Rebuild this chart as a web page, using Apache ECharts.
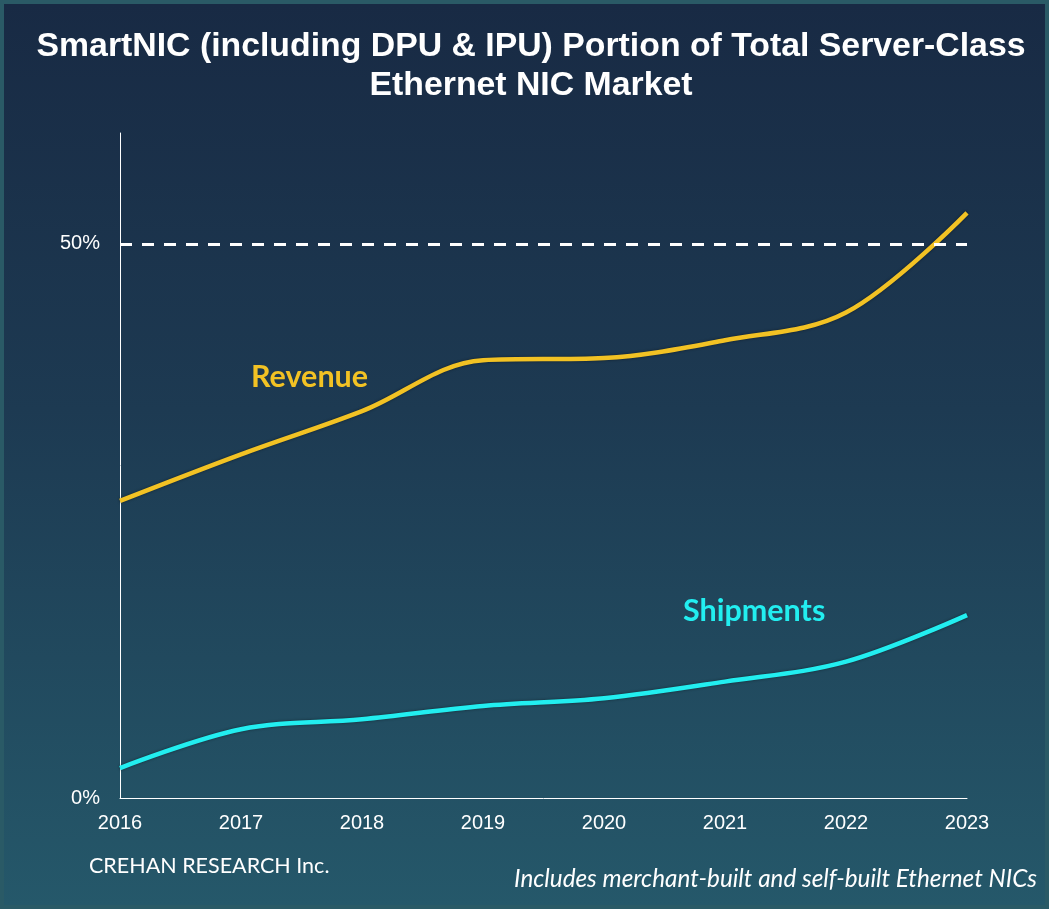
<!DOCTYPE html>
<html>
<head>
<meta charset="utf-8">
<script src="https://cdn.jsdelivr.net/npm/echarts@6/dist/echarts.min.js"></script>
<style>
    html, body { margin: 0; padding: 0; }
    #mychart {
        width: 1049px;
        height: 909px;
        box-sizing: border-box;
        border: 4px solid #2a5a66;
        background: linear-gradient(to bottom, #182a44 0%, #1d3a52 45%, #25586a 100%);
    }
</style>
</head>
<body>
<div id="mychart"></div>
<script>
// values (percent of total)
var years = ['2016', '2017', '2018', '2019', '2020', '2021', '2022', '2023'];
var revenue = [26.8, 31.0, 34.9, 39.5, 39.7, 41.3, 43.8, 52.8];
var shipments = [2.7, 6.2, 7.1, 8.3, 9.0, 10.5, 12.3, 16.5];
var refLine = 50;

var option = {
    textStyle: {fontFamily: 'Liberation Sans, Arial, sans-serif'},
    grid: {
        left: 116,
        right: 78,
        top: 129,
        bottom: 107
    },
    xAxis: [
        {
            type: 'category',
            boundaryGap: false,
            data: years,
            axisLine: {onZero: false, lineStyle: {color: '#ffffff', width: 1}},
            axisTick: {show: false},
            axisLabel: {color: '#ffffff', fontSize: 20, margin: 15}
        }
    ],
    yAxis: [
        {
            type: 'value',
            min: 0,
            max: 60,
            interval: 50,
            axisLine: {show: true, lineStyle: {color: '#ffffff', width: 1}},
            axisTick: {show: false},
            splitLine: {show: false},
            axisLabel: {
                color: '#ffffff',
                fontSize: 20,
                margin: 20,
                showMaxLabel: false,
                formatter: '{value}%'
            }
        }
    ],
    series: [
        {
            name: 'Revenue',
            type: 'line',
            data: revenue,
            smooth: 0.35,
            symbol: 'none',
            lineStyle: {
                color: '#f2c224',
                width: 4.5,
                shadowColor: 'rgba(0,0,0,0.45)',
                shadowBlur: 3
            },
            markLine: {
                silent: true,
                symbol: 'none',
                label: {show: false},
                lineStyle: {color: '#ffffff', type: [12, 10], width: 3},
                data: [{yAxis: refLine}]
            },
            z: 3
        },
        {
            name: 'Shipments',
            type: 'line',
            data: shipments,
            smooth: 0.35,
            symbol: 'none',
            lineStyle: {
                color: '#22eef0',
                width: 4.5,
                shadowColor: 'rgba(0,0,0,0.45)',
                shadowBlur: 3
            },
            z: 3
        }
    ],
    graphic: [
        {
            // chart title, centred a bit right of the page middle like the original
            type: 'text',
            x: 527,
            y: 23,
            style: {
                text: 'SmartNIC (including DPU & IPU) Portion of Total Server-Class\nEthernet NIC Market',
                fill: '#ffffff',
                align: 'center',
                lineHeight: 39,
                font: 'bold 33.8px "Liberation Sans", Arial, sans-serif'
            }
        },
        {
            type: 'text',
            left: 247,
            top: 358,
            style: {
                text: 'Revenue',
                fill: '#f2c224',
                font: 'bold 30.5px Lato, "Open Sans", sans-serif'
            }
        },
        {
            type: 'text',
            left: 679,
            top: 592,
            style: {
                text: 'Shipments',
                fill: '#22eef0',
                font: 'bold 30.5px Lato, "Open Sans", sans-serif'
            }
        },
        {
            type: 'text',
            left: 85,
            top: 851,
            style: {
                text: 'CREHAN RESEARCH Inc.',
                fill: '#ffffff',
                font: '21.5px Lato, "Open Sans", sans-serif'
            }
        },
        {
            type: 'text',
            right: 8,
            top: 863,
            style: {
                text: 'Includes merchant-built and self-built Ethernet NICs',
                fill: '#ffffff',
                font: 'italic 24.3px Lato, "Open Sans", sans-serif'
            }
        }
    ]
};

var mychart = echarts.init(document.getElementById('mychart'));
mychart.setOption(option);
</script>
</body>
</html>
